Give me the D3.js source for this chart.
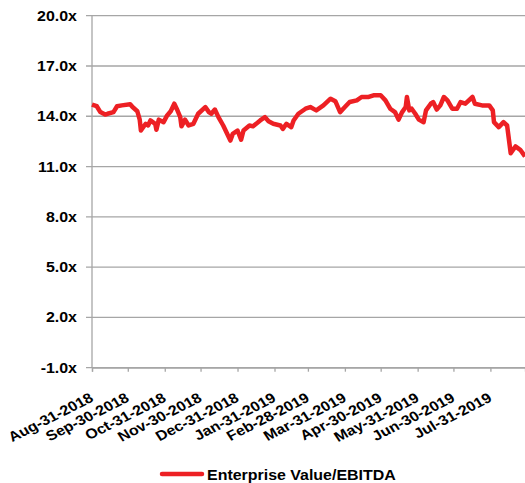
<!DOCTYPE html>
<html>
<head>
<meta charset="utf-8">
<script src="https://cdn.jsdelivr.net/npm/d3@7"></script>
<style>
  body { margin: 0; background: #fff; }
  svg text { font-family: "Liberation Sans", Arial, sans-serif; font-weight: bold; fill: #000; }
</style>
</head>
<body>
<svg id="chart" width="525" height="483"></svg>
<script>
// series: EV/EBITDA multiple
var dates = ['2018-08-31','2018-09-04','2018-09-07','2018-09-11','2018-09-13','2018-09-18','2018-09-21','2018-09-25',
  '2018-10-02','2018-10-04','2018-10-08','2018-10-10','2018-10-11','2018-10-15','2018-10-17','2018-10-19','2018-10-23',
  '2018-10-24','2018-10-26','2018-10-30','2018-11-02','2018-11-05','2018-11-08','2018-11-10','2018-11-13','2018-11-14',
  '2018-11-17','2018-11-20','2018-11-24','2018-11-28','2018-12-04','2018-12-07','2018-12-09','2018-12-12','2018-12-15',
  '2018-12-19','2018-12-22','2018-12-25','2018-12-27','2018-12-31','2019-01-03','2019-01-05','2019-01-10','2019-01-13',
  '2019-01-19','2019-01-23','2019-01-26','2019-01-30','2019-02-05','2019-02-07','2019-02-10','2019-02-14','2019-02-16',
  '2019-02-20','2019-02-26','2019-03-02','2019-03-07','2019-03-13','2019-03-19','2019-03-23','2019-03-27','2019-03-31',
  '2019-04-04','2019-04-10','2019-04-14','2019-04-20','2019-04-24','2019-04-30','2019-05-04','2019-05-08','2019-05-12',
  '2019-05-15','2019-05-18','2019-05-21','2019-05-22','2019-05-24','2019-05-26','2019-05-29','2019-06-01','2019-06-05',
  '2019-06-07','2019-06-11','2019-06-13','2019-06-16','2019-06-19','2019-06-22','2019-06-25','2019-06-29','2019-07-03',
  '2019-07-06','2019-07-10','2019-07-16','2019-07-18','2019-07-24','2019-07-30','2019-08-02','2019-08-03','2019-08-07',
  '2019-08-11','2019-08-14','2019-08-17','2019-08-21','2019-08-25','2019-08-29'];
var values = [14.7,14.6,14.25,14.1,14.15,14.25,14.6,14.65,
  14.72,14.55,14.3,13.8,13.15,13.55,13.45,13.75,13.55,
  13.2,13.8,13.65,14.05,14.3,14.75,14.45,13.95,13.4,
  13.8,13.45,13.55,14.15,14.55,14.25,14.15,14.4,13.95,
  13.45,13.0,12.55,12.95,13.15,12.6,13.15,13.45,13.4,
  13.75,13.95,13.7,13.55,13.45,13.25,13.55,13.35,13.75,
  14.15,14.45,14.55,14.35,14.65,15.05,14.9,14.25,14.55,
  14.85,14.95,15.15,15.15,15.25,15.25,14.95,14.45,14.25,
  13.8,14.25,14.55,15.15,14.35,14.45,14.15,13.8,13.65,
  14.35,14.75,14.85,14.4,14.65,15.15,14.95,14.45,14.45,
  14.85,14.75,15.15,14.75,14.65,14.65,14.35,13.65,13.35,
  13.65,13.45,11.8,12.2,12.0,11.6];
var yTicks = [-1, 2, 5, 8, 11, 14, 17, 20];
var xTicks = ['2018-08-31','2018-09-30','2018-10-31','2018-11-30','2018-12-31','2019-01-31',
  '2019-02-28','2019-03-31','2019-04-30','2019-05-31','2019-06-30','2019-07-31'];
var seriesName = 'Enterprise Value/EBITDA';

var parse = d3.timeParse('%Y-%m-%d');
var fmt = d3.timeFormat('%b-%d-%Y');
var data = dates.map(function(d, i) { return { date: parse(d), value: values[i] }; });

var plot = { left: 92, right: 525, top: 15.7, bottom: 367.7 };
var stretch = 1.14; // reference text is drawn a little wide

var svg = d3.select('#chart');

var x = d3.scaleTime()
    .domain([parse('2018-08-31'), parse('2019-08-29')])
    .range([plot.left, plot.right]);
var y = d3.scaleLinear()
    .domain([-1, 20])
    .range([plot.bottom, plot.top]);

// gridlines
svg.append('g')
    .selectAll('line')
    .data(yTicks)
    .join('line')
    .attr('x1', plot.left - 6)
    .attr('x2', plot.right)
    .attr('y1', function(d) { return y(d); })
    .attr('y2', function(d) { return y(d); })
    .attr('stroke', '#a6a6a6')
    .attr('stroke-width', 1.3);

// y labels
svg.append('g')
    .selectAll('text')
    .data(yTicks)
    .join('text')
    .attr('transform', function(d) { return 'translate(77,' + (y(d) + 5) + ') scale(' + stretch + ',1)'; })
    .attr('text-anchor', 'end')
    .style('font-size', '14px')
    .text(function(d) { return d.toFixed(1) + 'x'; });

// y axis line
svg.append('line')
    .attr('x1', plot.left).attr('x2', plot.left)
    .attr('y1', plot.top).attr('y2', plot.bottom)
    .attr('stroke', '#a6a6a6')
    .attr('stroke-width', 1.3);

// x axis
var xAxis = d3.axisBottom(x)
    .tickValues(xTicks.map(parse))
    .tickSize(4)
    .tickFormat(fmt);
var gx = svg.append('g')
    .attr('transform', 'translate(0,' + plot.bottom + ')')
    .call(xAxis);
gx.select('.domain').attr('stroke', '#a6a6a6').attr('stroke-width', 1.3);
gx.selectAll('.tick line').attr('stroke', '#a6a6a6').attr('stroke-width', 1.3);
gx.selectAll('.tick text')
    .attr('y', 0).attr('dy', null)
    .attr('text-anchor', 'end')
    .attr('transform', 'translate(2,33) scale(' + stretch + ',1) rotate(-30)')
    .style('font-size', '14px')
    .style('font-family', '"Liberation Sans", Arial, sans-serif')
    .style('font-weight', 'bold')
    .attr('fill', '#000');

// series line
var line = d3.line()
    .x(function(d) { return x(d.date); })
    .y(function(d) { return y(d.value); });
svg.append('path')
    .datum(data)
    .attr('d', line)
    .attr('fill', 'none')
    .attr('stroke', '#ed2024')
    .attr('stroke-width', 4.5)
    .attr('stroke-linejoin', 'round');

// legend
var legend = svg.append('g');
legend.append('line')
    .attr('x1', 162).attr('x2', 202)
    .attr('y1', 474).attr('y2', 474)
    .attr('stroke', '#ed2024')
    .attr('stroke-width', 4.5)
    .attr('stroke-linecap', 'round');
legend.append('text')
    .attr('transform', 'translate(207,480) scale(' + stretch + ',1)')
    .style('font-size', '14px')
    .text(seriesName);
</script>
</body>
</html>
